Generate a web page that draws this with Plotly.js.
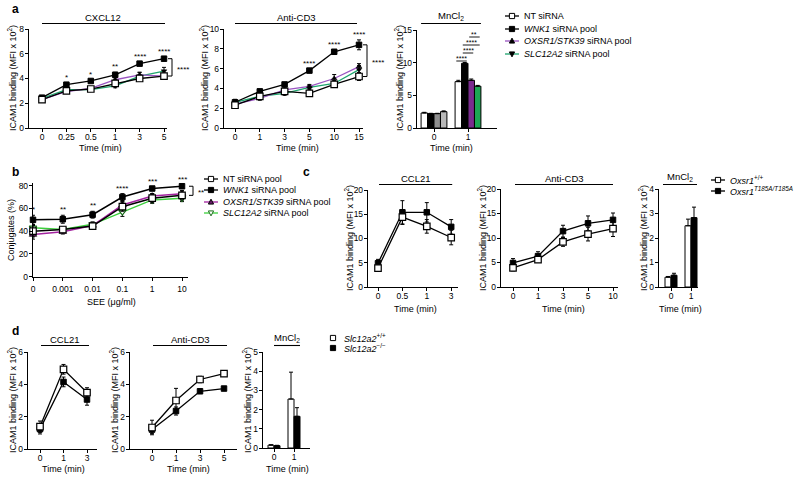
<!DOCTYPE html>
<html><head><meta charset="utf-8">
<script src="https://cdn.plot.ly/plotly-3.0.1.min.js"></script>
<style>html,body{margin:0;padding:0;background:#fff}#chart{width:800px;height:479px}</style>
</head><body><div id="chart"></div>
<script>
// ================= DATA =================
// ---- panel a : CXCL12 ----
const aCxTime = ['0','0.25','0.5','1','3','5'];
const aCxNT = [2.3,3.0,3.15,3.6,4.0,4.2];
const aCxNTErr = [0.15,0.15,0.1,0.2,0.2,0.25];
const aCxWNK1 = [2.45,3.5,3.8,4.3,5.2,5.6];
const aCxWNK1Err = [0.15,0.12,0.1,0.2,0.12,0.15];
const aCxOXSR1 = [2.3,2.95,3.2,3.9,4.3,4.2];
const aCxOXSR1Err = [0.1,0.1,0.1,0.15,0.2,0.2];
const aCxSLC = [2.4,3.1,3.1,3.4,4.2,4.6];
const aCxSLCErr = [0.15,0.1,0.1,0.15,0.3,0.3];
const aCxStars = ['','*','*','**','****','****'];
const aCxYTicks = [0,2,4,6,8];
// ---- panel a : Anti-CD3 ----
const aCdTime = ['0','1','3','5','10','15'];
const aCdNT = [2.3,3.2,3.7,3.5,4.4,5.2];
const aCdNTErr = [0.2,0.2,0.2,0.2,0.3,0.4];
const aCdWNK1 = [2.6,3.7,4.4,5.8,7.7,8.4];
const aCdWNK1Err = [0.2,0.2,0.15,0.2,0.2,0.5];
const aCdOXSR1 = [2.4,3.0,3.85,4.2,5.0,6.2];
const aCdOXSR1Err = [0.2,0.2,0.2,0.2,0.4,0.3];
const aCdSLC = [2.6,3.2,3.5,4.1,4.5,5.9];
const aCdSLCErr = [0.3,0.2,0.2,0.2,0.3,0.4];
const aCdStars = ['','','','****','****','****'];
const aCdYTicks = [0,2,4,6,8,10];
// ---- panel a : MnCl2 ----
const aMnTime = ['0','1'];
const aMnNT = [2.3,7.1];
const aMnNTErr = [0.1,0.2];
const aMnWNK1 = [2.2,9.9];
const aMnWNK1Err = [0.05,0.12];
const aMnOXSR1 = [2.2,7.3];
const aMnOXSR1Err = [0.05,0.2];
const aMnSLC = [2.5,6.4];
const aMnSLCErr = [0.12,0.12];
const aMnComparisons = [[0,1,'****'],[1,2,'****'],[1,3,'****'],[2,3,'**']];
const aMnYTicks = [0,5,10,15];
const aBracketStars = '****';
// ---- panel b ----
const bDose = ['0','0.001','0.01','0.1','1','10'];
const bNT = [40,41.5,44.5,61.5,69,71.5];
const bNTErr = [5,2.5,3,4,4,4];
const bWNK1 = [50,50.5,54.5,70,77.5,79.5];
const bWNK1Err = [4,3.5,3,3,1.5,1];
const bOXSR1 = [37,39.5,45,63,71,73];
const bOXSR1Err = [4,2,3,3,2,2.5];
const bSLC = [43,41.5,46,57,67.5,69];
const bSLCErr = [3,2,2,4,3,3];
const bStars = ['*','**','**','****','***','***'];
const bBracketStars = '**';
const bYTicks = [0,20,40,60,80];
// ---- panel c ----
const cCclTime = ['0','0.5','1','3'];
const cCclWT = [3.9,14.4,12.5,10.2];
const cCclWTErr = [0.5,1.5,1.4,1.5];
const cCclKI = [4.9,15.4,15.4,12.4];
const cCclKIErr = [0.8,2.4,2.0,1.5];
const cCdTime = ['0','1','3','5','10'];
const cCdWT = [3.9,5.6,9.2,10.8,11.9];
const cCdWTErr = [0.6,0.4,0.9,1.4,1.6];
const cCdKI = [4.9,6.3,11.4,13.0,13.7];
const cCdKIErr = [0.9,0.9,1.2,1.5,1.4];
const cMnTime = ['0','1'];
const cMnWT = [0.4,2.5];
const cMnWTErr = [0.03,0.27];
const cMnKI = [0.48,2.83];
const cMnKIErr = [0.08,0.43];
const cYTicks = [0,5,10,15,20];
const cMnYTicks = [0,1,2,3,4];
// ---- panel d ----
const dCclTime = ['0','1','3'];
const dCclWT = [1.38,4.93,3.49];
const dCclWTErr = [0.35,0.3,0.3];
const dCclKO = [1.23,4.15,3.06];
const dCclKOErr = [0.3,0.3,0.35];
const dCdTime = ['0','1','3','5'];
const dCdWT = [1.33,3.0,4.3,4.66];
const dCdWTErr = [0.45,0.75,0.2,0.15];
const dCdKO = [1.2,2.35,3.57,3.74];
const dCdKOErr = [0.25,0.25,0.1,0.05];
const dMnTime = ['0','1'];
const dMnWT = [0.15,2.55];
const dMnWTErr = [0.02,1.4];
const dMnKO = [0.12,1.65];
const dMnKOErr = [0.02,0.45];
const dYTicks = [0,2,4,6];
const dMnYTicks = [0,1,2,3,4,5];

// ================= LAYOUT HELPERS =================
const W = 800, H = 479;
const P = x => x / W;
const Q = y => 1 - y / H;
const FONT = 'Liberation Sans, Arial, Helvetica, sans-serif';
const YT = 'ICAM1 binding (MFI x 10<sup>2</sup>)';

// pixel geometry of each subplot
const G = {
  1: {xL:29, xR:167, x0:42, dx:24.4, yT:29, yB:128, ymax:8},
  2: {xL:224, xR:363, x0:235, dx:24.8, yT:29, yB:128, ymax:10},
  3: {xL:417, xR:497, x0:434, dx:34, yT:30, yB:128, ymax:15},
  4: {xL:33, xR:188, x0:33, dx:29.8, yT:183.4, yB:276.7, ymax:82},
  5: {xL:368, xR:458, x0:378, dx:24.4, yT:190, yB:287, ymax:20},
  6: {xL:501, xR:618, x0:513, dx:25, yT:189, yB:287, ymax:20},
  7: {xL:659, xR:698, x0:671, dx:20, yT:189, yB:287, ymax:4},
  8: {xL:28, xR:97, x0:40, dx:23.5, yT:352, yB:449, ymax:6},
  9: {xL:130, xR:237, x0:152, dx:24, yT:352, yB:449, ymax:6},
  10:{xL:263, xR:310, x0:274, dx:20, yT:352, yB:448, ymax:5}
};
const Xp = (n, v) => G[n].x0 + v * G[n].dx;
const Yp = (n, v) => G[n].yB - v / G[n].ymax * (G[n].yB - G[n].yT);
const xr = n => n === 1 ? 'x' : 'x' + n;
const yr = n => n === 1 ? 'y' : 'y' + n;

const layout = {
  width: W, height: H, margin: {l:0, r:0, t:0, b:0},
  paper_bgcolor: '#fff', plot_bgcolor: 'rgba(0,0,0,0)',
  showlegend: false, hovermode: false,
  font: {family: FONT, color: '#000', size: 9},
  shapes: [], annotations: []
};
const axCommon = {
  showline: true, linecolor: '#000', linewidth: 1.2, ticks: 'outside', ticklen: 3,
  tickwidth: 1, tickcolor: '#000', showgrid: false, zeroline: false, fixedrange: true,
  tickfont: {family: FONT, size: 8.5, color: '#000'}
};
function axes(n, cats, yticks, xStand) {
  const g = G[n];
  layout[n === 1 ? 'xaxis' : 'xaxis' + n] = Object.assign({}, axCommon, {
    domain: [P(g.xL), P(g.xR)], anchor: yr(n),
    range: [(g.xL - g.x0) / g.dx, (g.xR - g.x0) / g.dx],
    tickmode: 'array', tickvals: cats.map((_, i) => i), ticktext: cats,
    ticklabelstandoff: xStand === undefined ? -2 : xStand
  });
  layout[n === 1 ? 'yaxis' : 'yaxis' + n] = Object.assign({}, axCommon, {
    domain: [Q(g.yB), Q(g.yT)], anchor: xr(n), range: [0, g.ymax],
    tickmode: 'array', tickvals: yticks, ticktext: yticks.map(String),
    ticklabelstandoff: -1
  });
}
const traces = [];
function line(n, cats, vals, errs, lc, lw, mk) {
  traces.push({
    type: 'scatter', mode: 'lines+markers', xaxis: xr(n), yaxis: yr(n),
    x: cats.map((_, i) => i), y: vals, cliponaxis: false, hoverinfo: 'skip',
    line: {color: lc, width: lw},
    marker: mk,
    error_y: {type: 'data', array: errs, visible: true, color: '#000', thickness: 1, width: 2}
  });
}
function bars(n, cats, vals, errs, colors, k, nb, w) {
  traces.push({
    type: 'bar', xaxis: xr(n), yaxis: yr(n),
    x: cats.map((_, i) => i), y: vals, width: w, offset: -nb * w / 2 + k * w,
    hoverinfo: 'skip', cliponaxis: false,
    marker: {color: colors, line: {color: '#000', width: 1}},
    error_y: {type: 'data', symmetric: false, array: errs, arrayminus: errs.map(() => 0),
              color: '#000', thickness: 1, width: 2}
  });
}
function text(x, y, t, o) {
  layout.annotations.push(Object.assign({xref: 'paper', yref: 'paper', x: P(x), y: Q(y),
    text: t, showarrow: false, font: {family: FONT, size: 9, color: '#000'},
    xanchor: 'center', yanchor: 'middle'}, o || {}));
}
function seg(x0, y0, x1, y1, c, w) {
  layout.shapes.push({type: 'line', xref: 'paper', yref: 'paper',
    x0: P(x0), y0: Q(y0), x1: P(x1), y1: Q(y1), line: {color: c || '#000', width: w || 1}});
}
function header(t, x0, x1, yText, yLine) {
  text((x0 + x1) / 2, yText, t, {font: {family: FONT, size: 9.5, color: '#000'}});
  seg(x0, yLine, x1, yLine, '#000', 1.1);
}
function yTitle(x, yc, t) { text(x, yc, t, {textangle: -90, font: {family: FONT, size: 9, color: '#000'}}); }
function stars(n, list, series) {
  list.forEach((s, i) => {
    if (!s) return;
    let top = -Infinity;
    series.forEach(([v, e]) => { top = Math.max(top, v[i] + e[i]); });
    layout.annotations.push({xref: xr(n), yref: yr(n), x: i, y: top, text: s, showarrow: false,
      yanchor: 'bottom', yshift: -1, font: {family: FONT, size: 8, color: '#000'}});
  });
}
function bracket(xPx, y1, y2, t) {
  layout.shapes.push({type: 'path', xref: 'paper', yref: 'paper',
    path: `M ${P(xPx - 4)},${Q(y1)} L ${P(xPx)},${Q(y1)} L ${P(xPx)},${Q(y2)} L ${P(xPx - 4)},${Q(y2)}`,
    line: {color: '#000', width: 1}});
  text(xPx + 3, (y1 + y2) / 2 + 2, t, {xanchor: 'left', font: {family: FONT, size: 8, color: '#000'}});
}
// legend symbols
function sym(kind, x, y, fill, edge, s) {
  s = s || 2.6;
  let path;
  if (kind === 'sq') path = `M ${P(x - s)},${Q(y - s)} L ${P(x + s)},${Q(y - s)} L ${P(x + s)},${Q(y + s)} L ${P(x - s)},${Q(y + s)} Z`;
  else if (kind === 'tu') path = `M ${P(x - s)},${Q(y + s * 0.8)} L ${P(x + s)},${Q(y + s * 0.8)} L ${P(x)},${Q(y - s * 1.1)} Z`;
  else path = `M ${P(x - s)},${Q(y - s * 0.8)} L ${P(x + s)},${Q(y - s * 0.8)} L ${P(x)},${Q(y + s * 1.1)} Z`;
  layout.shapes.push({type: 'path', xref: 'paper', yref: 'paper', path: path,
    fillcolor: fill, line: {color: edge, width: 1}});
}
function legendEntry(x, y, lineColor, kind, fill, edge, label, fs) {
  if (lineColor) seg(x - 7, y, x + 7, y, lineColor, 1.3);
  sym(kind, x, y, fill, edge);
  text(x + (lineColor ? 10 : 9), y, label, {xanchor: 'left', font: {family: FONT, size: fs || 9, color: '#000'}});
}

// ================= STYLES =================
const OPEN = {symbol: 'square', size: 6.5, color: '#fff', line: {color: '#000', width: 1.2}};
const FILL = {symbol: 'square', size: 5.5, color: '#000', line: {color: '#000', width: 1}};
const TUP = {symbol: 'triangle-up', size: 5, color: '#000', line: {color: '#000', width: 0.5}};
const TDN = {symbol: 'triangle-down', size: 5, color: '#000', line: {color: '#000', width: 0.5}};
const PURPLE_A = '#9b55c2', GREEN_A = '#1fa56e';
const PURPLE_B = '#a3239f', GREEN_B = '#3ccf3c';

// ================= PANEL a =================
axes(1, aCxTime, aCxYTicks);
line(1, aCxTime, aCxSLC, aCxSLCErr, GREEN_A, 1.3, TDN);
line(1, aCxTime, aCxOXSR1, aCxOXSR1Err, PURPLE_A, 1.3, TUP);
line(1, aCxTime, aCxWNK1, aCxWNK1Err, '#000', 1.3, FILL);
line(1, aCxTime, aCxNT, aCxNTErr, '#000', 1.3, OPEN);
stars(1, aCxStars, [[aCxNT, aCxNTErr], [aCxWNK1, aCxWNK1Err], [aCxOXSR1, aCxOXSR1Err], [aCxSLC, aCxSLCErr]]);
bracket(172, Yp(1, aCxWNK1[5]), Yp(1, aCxNT[5]), aBracketStars);
header('CXCL12', Xp(1, 0), Xp(1, 5) + 1, 17, 23.5);
yTitle(12, 78, YT);
text(100, 148, 'Time (min)');

axes(2, aCdTime, aCdYTicks);
line(2, aCdTime, aCdSLC, aCdSLCErr, GREEN_A, 1.3, TDN);
line(2, aCdTime, aCdOXSR1, aCdOXSR1Err, PURPLE_A, 1.3, TUP);
line(2, aCdTime, aCdWNK1, aCdWNK1Err, '#000', 1.3, FILL);
line(2, aCdTime, aCdNT, aCdNTErr, '#000', 1.3, OPEN);
stars(2, aCdStars, [[aCdNT, aCdNTErr], [aCdWNK1, aCdWNK1Err], [aCdOXSR1, aCdOXSR1Err], [aCdSLC, aCdSLCErr]]);
bracket(367, Yp(2, aCdWNK1[5]), Yp(2, aCdNT[5]), aBracketStars);
header('Anti-CD3', Xp(2, 0), Xp(2, 5) - 2, 17, 23.5);
yTitle(204, 78, YT);
text(297, 148, 'Time (min)');

axes(3, aMnTime, aMnYTicks);
const aBw = 0.19;
bars(3, aMnTime, aMnNT, aMnNTErr, ['#fff', '#fff'], 0, 4, aBw);
bars(3, aMnTime, aMnWNK1, aMnWNK1Err, ['#000', '#000'], 1, 4, aBw);
bars(3, aMnTime, aMnOXSR1, aMnOXSR1Err, ['#8e8e8e', '#7a2c8e'], 2, 4, aBw);
bars(3, aMnTime, aMnSLC, aMnSLCErr, ['#b9b9b9', '#1ca653'], 3, 4, aBw);
(function () {
  const barC = k => Xp(3, 1 + (-2 * aBw + (k + 0.5) * aBw));
  const lvl = [61, 53, 45, 37];
  aMnComparisons.forEach(([i, j, s], k) => {
    seg(barC(i) - 2, lvl[k], barC(j) + 2, lvl[k], '#000', 0.9);
    text((barC(i) + barC(j)) / 2, lvl[k] - 2.5, s, {font: {family: FONT, size: 7, color: '#000'}});
  });
})();
header('MnCl<sub>2</sub>', Xp(3, 0) - 2 * aBw * G[3].dx, Xp(3, 1) + 2 * aBw * G[3].dx, 16, 23.5);
yTitle(399, 78, YT);
text(451, 148, 'Time (min)');

legendEntry(512, 16, '#000', 'sq', '#fff', '#000', 'NT siRNA');
legendEntry(512, 29, '#000', 'sq', '#000', '#000', '<i>WNK1</i> siRNA pool');
legendEntry(512, 41, PURPLE_A, 'tu', '#000', '#000', '<i>OXSR1/STK39</i> siRNA pool');
legendEntry(512, 54, GREEN_A, 'td', '#000', '#000', '<i>SLC12A2</i> siRNA pool');

// ================= PANEL b =================
axes(4, bDose, bYTicks, 1);
const TUPB = {symbol: 'triangle-up', size: 6.5, color: '#6b1a6b', line: {color: '#000', width: 0.8}};
const TDNB = {symbol: 'triangle-down', size: 6.5, color: '#fff', line: {color: '#1a6b1a', width: 1.2}};
line(4, bDose, bSLC, bSLCErr, GREEN_B, 1.5, TDNB);
line(4, bDose, bOXSR1, bOXSR1Err, PURPLE_B, 1.5, TUPB);
line(4, bDose, bWNK1, bWNK1Err, '#000', 1.5, FILL);
line(4, bDose, bNT, bNTErr, '#000', 1.5, OPEN);
stars(4, bStars, [[bNT, bNTErr], [bWNK1, bWNK1Err], [bOXSR1, bOXSR1Err], [bSLC, bSLCErr]]);
bracket(193, Yp(4, bWNK1[5]), Yp(4, bNT[5]), bBracketStars);
yTitle(11, 230, 'Conjugates (%)');
text(111, 302, 'SEE (μg/ml)');
legendEntry(211, 179, '#000', 'sq', '#fff', '#000', 'NT siRNA pool');
legendEntry(211, 190, '#000', 'sq', '#000', '#000', '<i>WNK1</i> siRNA pool');
legendEntry(211, 202, PURPLE_B, 'tu', '#6b1a6b', '#000', '<i>OXSR1/STK39</i> siRNA pool');
legendEntry(211, 213, GREEN_B, 'td', '#fff', '#1a6b1a', '<i>SLC12A2</i> siRNA pool');

// ================= PANEL c =================
axes(5, cCclTime, cYTicks);
line(5, cCclTime, cCclKI, cCclKIErr, '#000', 1.3, FILL);
line(5, cCclTime, cCclWT, cCclWTErr, '#000', 1.3, OPEN);
header('CCL21', Xp(5, 0) + 1, Xp(5, 3) + 1, 178, 184.5);
yTitle(349, 238, YT);
text(415, 309, 'Time (min)');

axes(6, cCdTime, cYTicks);
line(6, cCdTime, cCdKI, cCdKIErr, '#000', 1.3, FILL);
line(6, cCdTime, cCdWT, cCdWTErr, '#000', 1.3, OPEN);
header('Anti-CD3', Xp(6, 0) + 2, Xp(6, 4), 178, 184.5);
yTitle(482, 238, YT);
text(563, 309, 'Time (min)');

axes(7, cMnTime, cMnYTicks);
const cBw = 0.3;
bars(7, cMnTime, cMnWT, cMnWTErr, ['#fff', '#fff'], 0, 2, cBw);
bars(7, cMnTime, cMnKI, cMnKIErr, ['#000', '#000'], 1, 2, cBw);
header('MnCl<sub>2</sub>', Xp(7, 0) - 8, Xp(7, 1) + 6, 177, 184.5);
yTitle(643, 238, YT);
text(680, 309, 'Time (min)');

legendEntry(718, 180, '#000', 'sq', '#fff', '#000', '<i>Oxsr1</i><sup>+/+</sup>');
legendEntry(718, 191, '#000', 'sq', '#000', '#000', '<i>Oxsr1</i><sup><i>T185A/T185A</i></sup>');

// ================= PANEL d =================
axes(8, dCclTime, dYTicks);
line(8, dCclTime, dCclKO, dCclKOErr, '#000', 1.3, FILL);
line(8, dCclTime, dCclWT, dCclWTErr, '#000', 1.3, OPEN);
header('CCL21', Xp(8, 0) + 1, Xp(8, 2) + 2, 339, 345.5);
yTitle(12, 400, YT);
text(63, 469, 'Time (min)');

axes(9, dCdTime, dYTicks);
line(9, dCdTime, dCdKO, dCdKOErr, '#000', 1.3, FILL);
line(9, dCdTime, dCdWT, dCdWTErr, '#000', 1.3, OPEN);
header('Anti-CD3', Xp(9, 0) + 1, Xp(9, 3) + 3, 339, 345.5);
yTitle(114, 400, YT);
text(188, 469, 'Time (min)');

axes(10, dMnTime, dMnYTicks);
const dBw = 0.3;
bars(10, dMnTime, dMnWT, dMnWTErr, ['#fff', '#fff'], 0, 2, dBw);
bars(10, dMnTime, dMnKO, dMnKOErr, ['#000', '#000'], 1, 2, dBw);
header('MnCl<sub>2</sub>', Xp(10, 0), Xp(10, 1) + 6, 338, 345.5);
yTitle(247, 400, YT);
text(287, 469, 'Time (min)');

legendEntry(333, 338, null, 'sq', '#fff', '#000', '<i>Slc12a2</i><sup>+/+</sup>');
legendEntry(333, 348, null, 'sq', '#000', '#000', '<i>Slc12a2</i><sup>−/−</sup>');

// panel letters
[['a', 10, 9], ['b', 10, 172], ['c', 301, 172], ['d', 10, 331]].forEach(([t, x, y]) =>
  text(x, y, '<b>' + t + '</b>', {xanchor: 'left', font: {family: FONT, size: 12, color: '#000'}}));

Plotly.newPlot('chart', traces, layout, {staticPlot: true, displayModeBar: false});
</script>
</body></html>
